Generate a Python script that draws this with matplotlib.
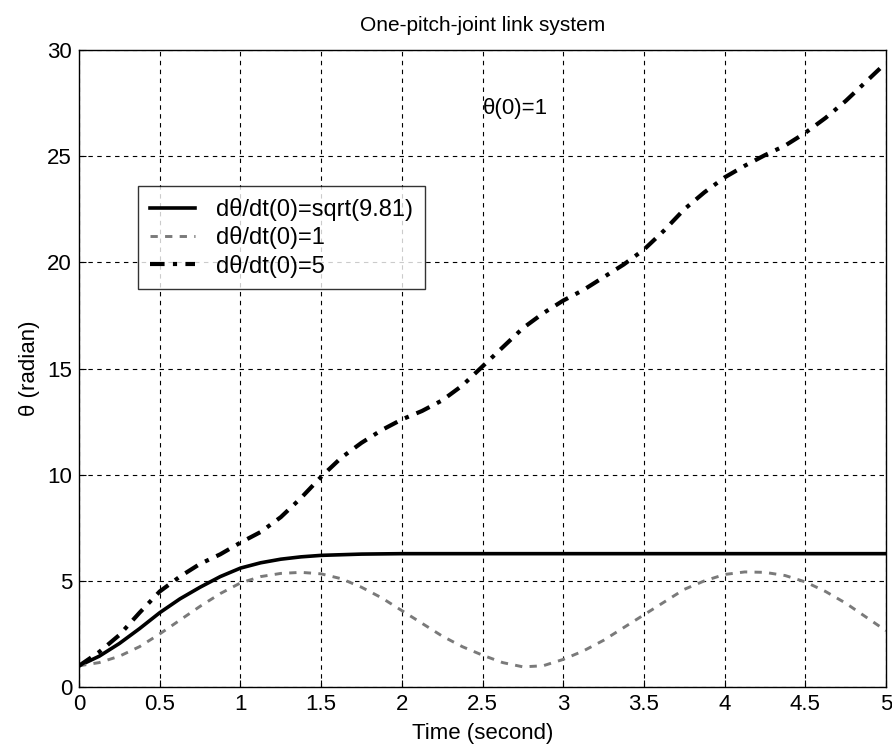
import matplotlib
matplotlib.use("Agg")
import matplotlib.pyplot as plt

# Values
t_solid = [0, 0.125, 0.25, 0.375, 0.5, 0.625, 0.75, 0.875, 1.0, 1.125, 1.25,
           1.375, 1.5, 1.75, 2.0, 2.5, 3.0, 3.5, 4.0, 4.5, 5.0]
theta_solid = [1.0, 1.45, 2.05, 2.75, 3.5, 4.15, 4.7, 5.2, 5.6, 5.85, 6.02,
               6.13, 6.2, 6.26, 6.28, 6.28, 6.28, 6.28, 6.28, 6.28, 6.28]

t_fine = [0, 0.125, 0.25, 0.375, 0.5, 0.625, 0.75, 0.875, 1.0, 1.125, 1.25,
          1.375, 1.5, 1.625, 1.75, 1.875, 2.0, 2.125, 2.25, 2.375, 2.5,
          2.625, 2.75, 2.875, 3.0, 3.125, 3.25, 3.375, 3.5, 3.625, 3.75,
          3.875, 4.0, 4.125, 4.25, 4.375, 4.5, 4.625, 4.75, 4.875, 5.0]
theta_one = [1.0, 1.15, 1.45, 1.9, 2.5, 3.15, 3.8, 4.4, 4.9, 5.2, 5.35,
             5.4, 5.33, 5.1, 4.7, 4.2, 3.6, 3.0, 2.4, 1.9, 1.5,
             1.15, 0.95, 1.0, 1.3, 1.7, 2.2, 2.8, 3.4, 4.0, 4.6,
             5.0, 5.3, 5.42, 5.4, 5.25, 4.95, 4.5, 3.95, 3.3, 2.65]
theta_five = [1.0, 1.65, 2.45, 3.5, 4.5, 5.2, 5.8, 6.25, 6.8, 7.3, 8.0,
              8.9, 9.9, 10.8, 11.5, 12.1, 12.6, 13.0, 13.5, 14.2, 15.1,
              16.0, 16.9, 17.6, 18.2, 18.7, 19.3, 19.9, 20.6, 21.5, 22.5,
              23.3, 24.0, 24.55, 25.05, 25.5, 26.1, 26.8, 27.6, 28.5, 29.4]

labels = ["d\u03b8/dt(0)=sqrt(9.81)", "d\u03b8/dt(0)=1", "d\u03b8/dt(0)=5"]

plt.rcParams['font.family'] = ['Liberation Sans', 'DejaVu Sans']

fig = plt.figure(figsize=(8.92, 7.51), dpi=100)
ax = fig.add_axes([0.0886, 0.0852, 0.9047, 0.8482])

ax.plot(t_solid, theta_solid, color="black", lw=2.6, label=labels[0])
ax.plot(t_fine, theta_one, color="#7a7a7a", lw=2.1, linestyle=(0, (2.5, 2.5)),
        label=labels[1])
ax.plot(t_fine, theta_five, color="black", lw=3.0, linestyle=(0, (3.5, 2, 1, 2)),
        label=labels[2])

ax.set_xlim(0, 5)
ax.set_ylim(0, 30)
ax.set_xticks([0, 0.5, 1, 1.5, 2, 2.5, 3, 3.5, 4, 4.5, 5])
ax.set_xticklabels(["0", "0.5", "1", "1.5", "2", "2.5", "3", "3.5", "4", "4.5", "5"])
ax.set_yticks([0, 5, 10, 15, 20, 25, 30])
ax.tick_params(direction="in", labelsize=16, length=5, pad=5)
ax.grid(True, color="black", linestyle=(0, (4, 4)), linewidth=0.8)

ax.set_title("One-pitch-joint link system", fontsize=15, pad=14)
ax.set_xlabel("Time (second)", fontsize=16, labelpad=6)
ax.set_ylabel("\u03b8 (radian)", fontsize=16, labelpad=5)

ax.text(2.906, 27.25, "\u03b8(0)=1", fontsize=16, va="center", ha="right")

leg = ax.legend(loc="upper left", bbox_to_anchor=(0.073, 0.786), fontsize=17,
                frameon=True, fancybox=False, handlelength=1.9,
                borderpad=0.5, labelspacing=0.22, handletextpad=0.9,
                borderaxespad=0)
leg.get_frame().set_edgecolor("black")
leg.get_frame().set_linewidth(1.0)

for s in ax.spines.values():
    s.set_linewidth(1.0)

fig.savefig("out.png", dpi=100)
